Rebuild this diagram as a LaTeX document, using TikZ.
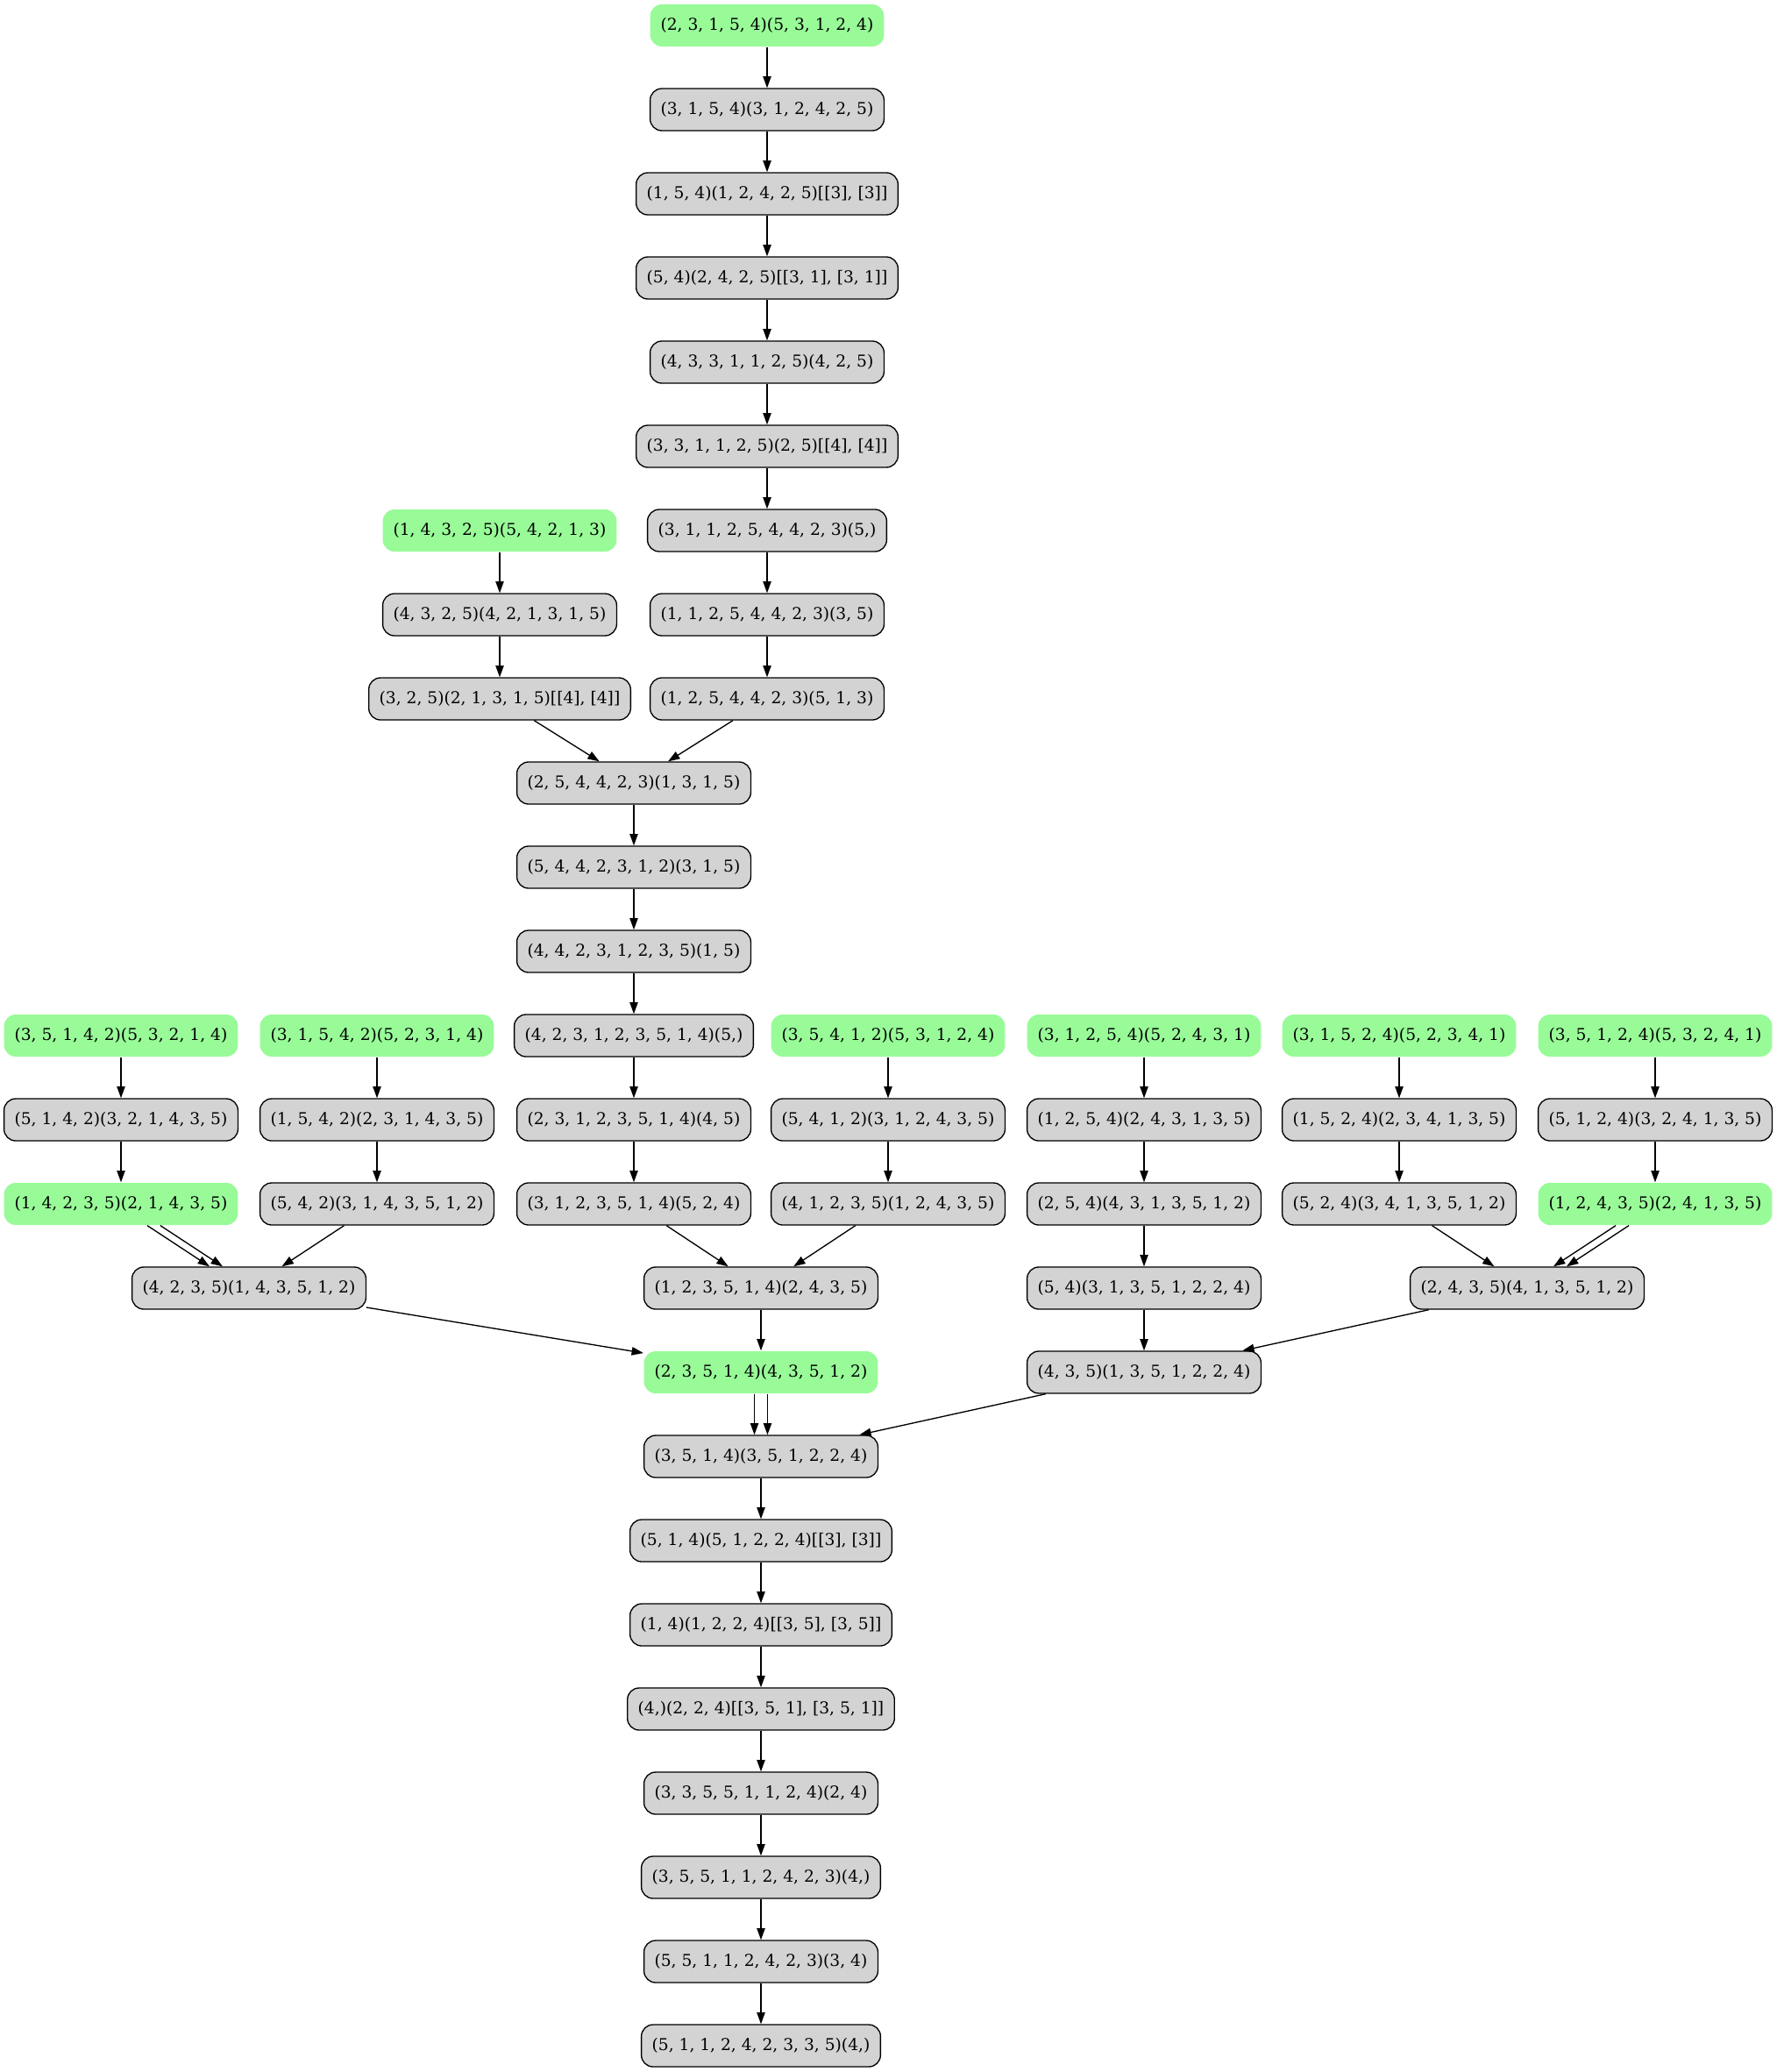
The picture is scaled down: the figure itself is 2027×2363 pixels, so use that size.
\documentclass[tikz,border=0pt]{standalone}
\usepackage{fontspec}
\setmainfont{DejaVu Serif}
\usetikzlibrary{arrows.meta}
\definecolor{palegreen}{RGB}{152,251,152}
\definecolor{boxgray}{RGB}{211,211,211}
\begin{document}
\begin{tikzpicture}[x=0.75pt,y=-0.75pt,
  base/.style={rectangle,rounded corners=10pt,minimum height=36pt,inner xsep=9pt,inner ysep=0pt,
    font=\fontsize{14pt}{16pt}\selectfont,line width=1pt},
  gbox/.style={base,fill=boxgray,draw=black},
  pbox/.style={base,fill=palegreen,draw=none},
  edge/.style={draw=black,line width=1pt,-{Triangle[length=10pt,width=7pt]}},
  twinL/.style={edge,transform canvas={xshift=-5.6pt}},
  twinR/.style={edge,transform canvas={xshift=5.6pt}}]
\useasboundingbox (0,0) rectangle (2027,2363);

% upper main chain
\node[pbox] (t0) at (875,29)  {(2, 3, 1, 5, 4)(5, 3, 1, 2, 4)};
\node[gbox] (t1) at (875,125) {(3, 1, 5, 4)(3, 1, 2, 4, 2, 5)};
\node[gbox] (t2) at (875,221) {(1, 5, 4)(1, 2, 4, 2, 5)[[3], [3]]};
\node[gbox] (t3) at (875,317) {(5, 4)(2, 4, 2, 5)[[3, 1], [3, 1]]};
\node[gbox] (t4) at (875,413) {(4, 3, 3, 1, 1, 2, 5)(4, 2, 5)};
\node[gbox] (t5) at (875,509) {(3, 3, 1, 1, 2, 5)(2, 5)[[4], [4]]};
\node[gbox] (t6) at (875,605) {(3, 1, 1, 2, 5, 4, 4, 2, 3)(5,)};
\node[gbox] (t7) at (875,701) {(1, 1, 2, 5, 4, 4, 2, 3)(3, 5)};
\node[gbox] (t8) at (875,797) {(1, 2, 5, 4, 4, 2, 3)(5, 1, 3)};

% left branch joining the chain
\node[pbox] (l6) at (570,605) {(1, 4, 3, 2, 5)(5, 4, 2, 1, 3)};
\node[gbox] (l7) at (570,701) {(4, 3, 2, 5)(4, 2, 1, 3, 1, 5)};
\node[gbox] (l8) at (570,797) {(3, 2, 5)(2, 1, 3, 1, 5)[[4], [4]]};

\node[gbox] (m9)  at (723,893)  {(2, 5, 4, 4, 2, 3)(1, 3, 1, 5)};
\node[gbox] (m10) at (723,989)  {(5, 4, 4, 2, 3, 1, 2)(3, 1, 5)};
\node[gbox] (m11) at (723,1085) {(4, 4, 2, 3, 1, 2, 3, 5)(1, 5)};

% seven parallel columns
\node[pbox] (a12) at (138,1181)  {(3, 5, 1, 4, 2)(5, 3, 2, 1, 4)};
\node[pbox] (b12) at (430,1181)  {(3, 1, 5, 4, 2)(5, 2, 3, 1, 4)};
\node[gbox] (c12) at (723,1181)  {(4, 2, 3, 1, 2, 3, 5, 1, 4)(5,)};
\node[pbox] (d12) at (1013,1181) {(3, 5, 4, 1, 2)(5, 3, 1, 2, 4)};
\node[pbox] (e12) at (1305,1181) {(3, 1, 2, 5, 4)(5, 2, 4, 3, 1)};
\node[pbox] (f12) at (1596,1181) {(3, 1, 5, 2, 4)(5, 2, 3, 4, 1)};
\node[pbox] (g12) at (1888,1181) {(3, 5, 1, 2, 4)(5, 3, 2, 4, 1)};

\node[gbox] (a13) at (138,1277)  {(5, 1, 4, 2)(3, 2, 1, 4, 3, 5)};
\node[gbox] (b13) at (430,1277)  {(1, 5, 4, 2)(2, 3, 1, 4, 3, 5)};
\node[gbox] (c13) at (723,1277)  {(2, 3, 1, 2, 3, 5, 1, 4)(4, 5)};
\node[gbox] (d13) at (1013,1277) {(5, 4, 1, 2)(3, 1, 2, 4, 3, 5)};
\node[gbox] (e13) at (1305,1277) {(1, 2, 5, 4)(2, 4, 3, 1, 3, 5)};
\node[gbox] (f13) at (1596,1277) {(1, 5, 2, 4)(2, 3, 4, 1, 3, 5)};
\node[gbox] (g13) at (1888,1277) {(5, 1, 2, 4)(3, 2, 4, 1, 3, 5)};

\node[pbox] (a14) at (138,1373)  {(1, 4, 2, 3, 5)(2, 1, 4, 3, 5)};
\node[gbox] (b14) at (430,1373)  {(5, 4, 2)(3, 1, 4, 3, 5, 1, 2)};
\node[gbox] (c14) at (723,1373)  {(3, 1, 2, 3, 5, 1, 4)(5, 2, 4)};
\node[gbox] (d14) at (1013,1373) {(4, 1, 2, 3, 5)(1, 2, 4, 3, 5)};
\node[gbox] (e14) at (1305,1373) {(2, 5, 4)(4, 3, 1, 3, 5, 1, 2)};
\node[gbox] (f14) at (1596,1373) {(5, 2, 4)(3, 4, 1, 3, 5, 1, 2)};
\node[pbox] (g14) at (1888,1373) {(1, 2, 4, 3, 5)(2, 4, 1, 3, 5)};

\node[gbox] (p15) at (284,1469)  {(4, 2, 3, 5)(1, 4, 3, 5, 1, 2)};
\node[gbox] (q15) at (868,1469)  {(1, 2, 3, 5, 1, 4)(2, 4, 3, 5)};
\node[gbox] (r15) at (1305,1469) {(5, 4)(3, 1, 3, 5, 1, 2, 2, 4)};
\node[gbox] (s15) at (1742,1469) {(2, 4, 3, 5)(4, 1, 3, 5, 1, 2)};

\node[pbox] (q16) at (868,1565)  {(2, 3, 5, 1, 4)(4, 3, 5, 1, 2)};
\node[gbox] (r16) at (1305,1565) {(4, 3, 5)(1, 3, 5, 1, 2, 2, 4)};

% lower chain
\node[gbox] (z17) at (868,1661) {(3, 5, 1, 4)(3, 5, 1, 2, 2, 4)};
\node[gbox] (z18) at (868,1757) {(5, 1, 4)(5, 1, 2, 2, 4)[[3], [3]]};
\node[gbox] (z19) at (868,1853) {(1, 4)(1, 2, 2, 4)[[3, 5], [3, 5]]};
\node[gbox] (z20) at (868,1949) {(4,)(2, 2, 4)[[3, 5, 1], [3, 5, 1]]};
\node[gbox] (z21) at (868,2045) {(3, 3, 5, 5, 1, 1, 2, 4)(2, 4)};
\node[gbox] (z22) at (868,2141) {(3, 5, 5, 1, 1, 2, 4, 2, 3)(4,)};
\node[gbox] (z23) at (868,2237) {(5, 5, 1, 1, 2, 4, 2, 3)(3, 4)};
\node[gbox] (z24) at (868,2333) {(5, 1, 1, 2, 4, 2, 3, 3, 5)(4,)};

% connectors
\draw[edge] (t0) -- (t1);
\draw[edge] (t1) -- (t2);
\draw[edge] (t2) -- (t3);
\draw[edge] (t3) -- (t4);
\draw[edge] (t4) -- (t5);
\draw[edge] (t5) -- (t6);
\draw[edge] (t6) -- (t7);
\draw[edge] (t7) -- (t8);
\draw[edge] (t8) -- (m9);
\draw[edge] (l6) -- (l7);
\draw[edge] (l7) -- (l8);
\draw[edge] (l8) -- (m9);
\draw[edge] (m9) -- (m10);
\draw[edge] (m10) -- (m11);
\draw[edge] (m11) -- (c12);

\foreach \c in {a,b,c,d,e,f,g}{
  \draw[edge] (\c12) -- (\c13);
  \draw[edge] (\c13) -- (\c14);
}

\draw[twinL] (a14) -- (p15);
\draw[twinR] (a14) -- (p15);
\draw[edge] (b14) -- (p15);
\draw[edge] (c14) -- (q15);
\draw[edge] (d14) -- (q15);
\draw[edge] (e14) -- (r15);
\draw[edge] (f14) -- (s15);
\draw[twinL] (g14) -- (s15);
\draw[twinR] (g14) -- (s15);

\draw[edge] (p15) -- (q16);
\draw[edge] (q15) -- (q16);
\draw[edge] (r15) -- (r16);
\draw[edge] (s15) -- (r16);

\draw[twinL] (q16) -- (z17);
\draw[twinR] (q16) -- (z17);
\draw[edge] (r16) -- (z17);
\draw[edge] (z17) -- (z18);
\draw[edge] (z18) -- (z19);
\draw[edge] (z19) -- (z20);
\draw[edge] (z20) -- (z21);
\draw[edge] (z21) -- (z22);
\draw[edge] (z22) -- (z23);
\draw[edge] (z23) -- (z24);
\end{tikzpicture}
\end{document}
